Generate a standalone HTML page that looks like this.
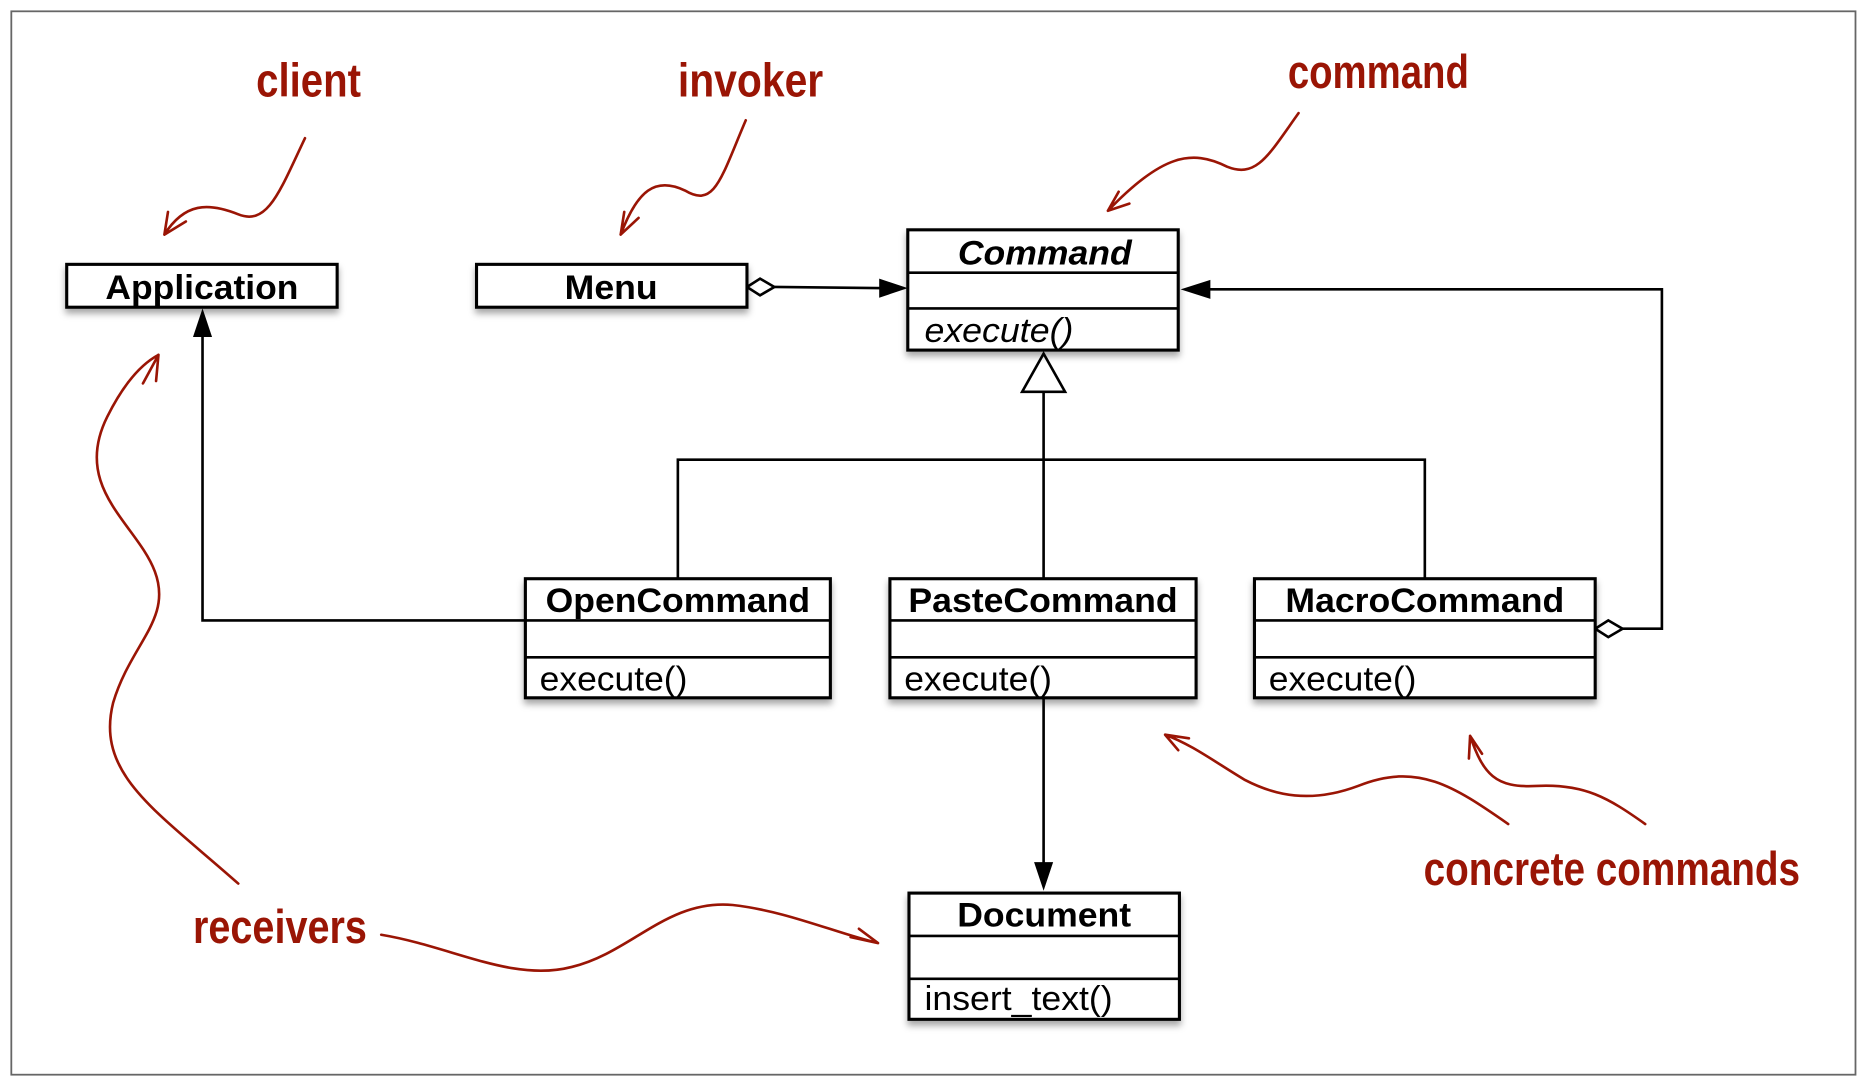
<!DOCTYPE html>
<html><head><meta charset="utf-8"><style>
html,body{margin:0;padding:0;background:#fff;}
svg{display:block;}
.b{font-family:"Liberation Sans",sans-serif;font-weight:bold;font-size:29px;fill:#000;}
.n{font-family:"Liberation Sans",sans-serif;font-size:29px;fill:#000;}
.h{font-family:"Liberation Sans Narrow","Liberation Sans",sans-serif;font-weight:bold;font-size:40px;fill:#9a1505;}
.r{fill:none;stroke:#9a1505;stroke-width:2.2;stroke-linecap:round;}
.k{stroke:#000;stroke-width:2.2;fill:none;}
.box{fill:#fff;stroke:#000;stroke-width:2.6;filter:url(#sh);}
</style></head><body>
<svg width="1868" height="1086" viewBox="0 0 1568 912" preserveAspectRatio="none" xmlns="http://www.w3.org/2000/svg">
<defs>
<filter id="sh" x="-10%" y="-20%" width="130%" height="160%"><feDropShadow dx="0" dy="4" stdDeviation="3" flood-color="#000" flood-opacity="0.35"/></filter>
</defs>
<rect x="9.5" y="9.5" width="1548" height="893" fill="none" stroke="#666" stroke-width="1.5"/>

<path class="k" d="M876 329 V486 M569 486 V386 H1196 V486"/>
<polygon points="876,297 858,329 894,329" fill="#fff" stroke="#000" stroke-width="2.2"/>
<path class="k" d="M650 241 L745 242"/>
<polygon points="627,241 638,234 650,241 638,248" fill="#fff" stroke="#000" stroke-width="2.2"/>
<polygon points="762,242 738,234 738,250" fill="#000"/>
<path class="k" d="M1362 528 H1395 V243 H1010"/>
<polygon points="1339,528 1350,521 1362,528 1350,535" fill="#fff" stroke="#000" stroke-width="2.2"/>
<polygon points="991,243 1016,235 1016,251" fill="#000"/>
<path class="k" d="M441 521 H170 V280"/>
<polygon points="170,259 162,283 178,283" fill="#000"/>
<path class="k" d="M876 586 V730"/>
<polygon points="876,748 868,724 884,724" fill="#000"/>

<rect class="box" x="56" y="222" width="227" height="36"/>
<text class="b" x="169.5" y="251" text-anchor="middle" textLength="162" lengthAdjust="spacingAndGlyphs">Application</text>
<rect class="box" x="400" y="222" width="227" height="36"/>
<text class="b" x="513" y="251" text-anchor="middle" textLength="78" lengthAdjust="spacingAndGlyphs">Menu</text>

<rect class="box" x="762" y="193" width="227" height="101"/>
<path class="k" d="M762 229 H989 M762 259 H989" stroke-width="2.6"/>
<text class="b" x="877" y="222" text-anchor="middle" font-style="italic" textLength="146" lengthAdjust="spacingAndGlyphs">Command</text>
<text class="n" x="776" y="287" font-style="italic" textLength="125" lengthAdjust="spacingAndGlyphs">execute()</text>

<rect class="box" x="441" y="486" width="256" height="100"/>
<path class="k" d="M441 521 H697 M441 552 H697" stroke-width="2.6"/>
<text class="b" x="569" y="514" text-anchor="middle" textLength="222" lengthAdjust="spacingAndGlyphs">OpenCommand</text>
<text class="n" x="453" y="580" textLength="124" lengthAdjust="spacingAndGlyphs">execute()</text>

<rect class="box" x="747" y="486" width="257" height="100"/>
<path class="k" d="M747 521 H1004 M747 552 H1004" stroke-width="2.6"/>
<text class="b" x="875.5" y="514" text-anchor="middle" textLength="226" lengthAdjust="spacingAndGlyphs">PasteCommand</text>
<text class="n" x="759" y="580" textLength="124" lengthAdjust="spacingAndGlyphs">execute()</text>

<rect class="box" x="1053" y="486" width="286" height="100"/>
<path class="k" d="M1053 521 H1339 M1053 552 H1339" stroke-width="2.6"/>
<text class="b" x="1196" y="514" text-anchor="middle" textLength="234" lengthAdjust="spacingAndGlyphs">MacroCommand</text>
<text class="n" x="1065" y="580" textLength="124" lengthAdjust="spacingAndGlyphs">execute()</text>

<rect class="box" x="763" y="750" width="227" height="106"/>
<path class="k" d="M763 786 H990 M763 822 H990" stroke-width="2.6"/>
<text class="b" x="876.5" y="778" text-anchor="middle" textLength="146" lengthAdjust="spacingAndGlyphs">Document</text>
<text class="n" x="776" y="848" textLength="158" lengthAdjust="spacingAndGlyphs">insert_text()</text>

<text class="h" x="259" y="81" text-anchor="middle" textLength="88" lengthAdjust="spacingAndGlyphs">client</text>
<text class="h" x="630" y="81" text-anchor="middle" textLength="122" lengthAdjust="spacingAndGlyphs">invoker</text>
<text class="h" x="1157" y="74" text-anchor="middle" textLength="152" lengthAdjust="spacingAndGlyphs">command</text>
<text class="h" x="235" y="792" text-anchor="middle" textLength="146" lengthAdjust="spacingAndGlyphs">receivers</text>
<text class="h" x="1353" y="743" text-anchor="middle" textLength="316" lengthAdjust="spacingAndGlyphs">concrete commands</text>

<path class="r" d="M256 116 C235 160 225 190 200 180 C175 170 155 170 138 197 M138 197 L141 178 M138 197 L156 186"/>
<path class="r" d="M626 101 C605 150 600 175 575 160 C550 148 535 160 521 197 M521 197 L524 178 M521 197 L536 183"/>
<path class="r" d="M1090 95 C1065 130 1055 150 1030 140 C1000 125 975 130 930 177 M930 177 L939 161 M930 177 L948 171"/>
<path class="r" d="M200 742 C130 680 80 650 95 590 C110 540 145 520 130 480 C115 440 60 410 90 350 C105 320 120 305 133 298 M133 298 L120 322 M133 298 L131 320"/>
<path class="r" d="M320 785 C380 795 430 825 480 812 C530 800 560 755 615 760 C660 765 700 783 737 792 M737 792 L714 787 M737 792 L721 780"/>
<path class="r" d="M1266 692 C1220 660 1190 640 1140 660 C1100 675 1070 668 1045 655 C1020 640 1000 625 978 617 M978 617 L998 620 M978 617 L989 630"/>
<path class="r" d="M1381 692 C1350 670 1330 658 1290 660 C1255 662 1245 650 1234 618 M1234 618 L1244 633 M1234 618 L1233 637"/>
</svg>
</body></html>
